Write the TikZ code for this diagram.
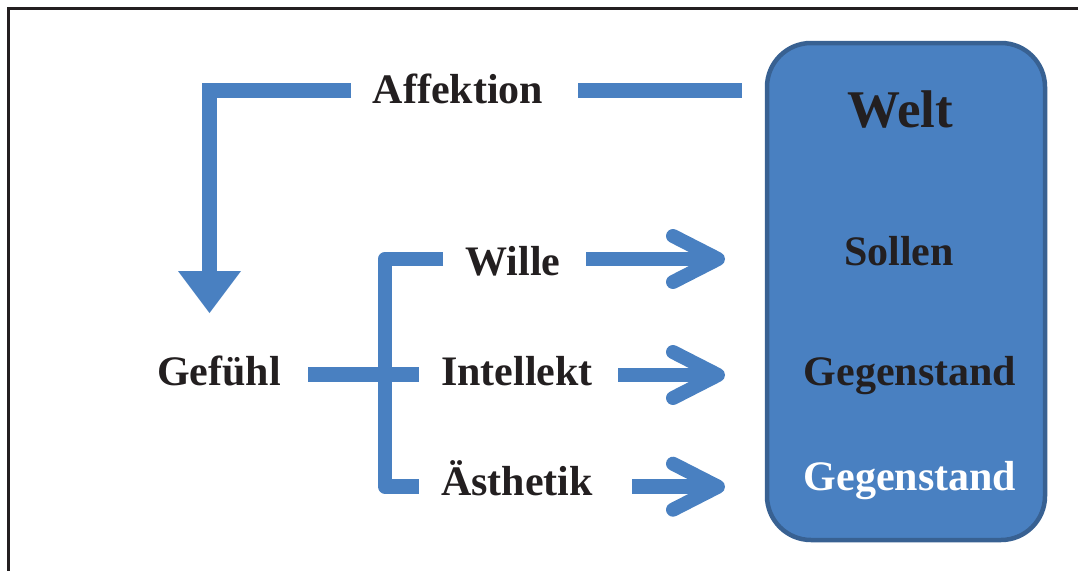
\documentclass[tikz,border=0pt]{standalone}
\usepackage{fontspec}
\setmainfont{Liberation Serif}
\usetikzlibrary{calc}
\definecolor{flowblue}{RGB}{73,128,193}
\definecolor{boxedge}{RGB}{56,97,146}
\definecolor{inkblack}{RGB}{35,31,32}
\tikzset{
  lbl/.style={font=\bfseries\fontsize{42}{50}\selectfont, text=inkblack, anchor=base, inner sep=0pt},
  flow/.style={draw=flowblue, line width=14.5pt},
  chevron/.style={draw=flowblue, line width=14pt, line cap=round, line join=round},
}
\begin{document}
\begin{tikzpicture}[x=1pt,y=-1pt]
\useasboundingbox (0,0) rectangle (1078,570);

% outer frame (runs off the page at right and bottom)
\draw[inkblack, line width=2.8pt] (8.5,600) -- (8.5,8.5) -- (1100,8.5);

% the world box
\node[draw=boxedge, fill=flowblue, line width=4.5pt, rounded corners=44pt,
      minimum width=278pt, minimum height=497pt, inner sep=0pt] (welt) at (906,291.5) {};
\node[lbl, font=\bfseries\fontsize{53}{60}\selectfont] (weltT) at (900,127) {Welt};
\node[lbl] (sollen) at (899,265) {Sollen};
\node[lbl] (gegA) at (910,385) {Gegenstand};
\node[lbl, text=white] (gegB) at (910,490.5) {Gegenstand};

% labels
\node[lbl] (aff) at (458,103) {Affektion};
\node[lbl] (gef) at (219,385) {Gefühl};
\node[lbl] (wil) at (513,275) {Wille};
\node[lbl] (int) at (517,385) {Intellekt};
\node[lbl] (aes) at (517,495) {Ästhetik};

% Affektion: from the world down to Gefühl
\coordinate (affL) at (351,90.5);
\coordinate (affR) at (578,90.5);
\coordinate (affE) at (742,90.5);
\coordinate (corner) at (209.5,90.5);
\coordinate (headbase) at (209.5,271);
\coordinate (headtip) at (209.5,313);
\draw[flow] (affR) -- (affE);
\draw[flow, line join=miter] (affL) -- (corner) -- (headbase);
\fill[flowblue] ($(headbase)+(-31.5,0)$) -- ($(headbase)+(31.5,0)$) -- (headtip) -- cycle;

% Gefühl splits into the three faculties
\coordinate (gefR) at (308,374.7);
\coordinate (brMid) at (419,374.7);
\coordinate (brTop) at (385,259);
\coordinate (brBot) at (385,486.5);
\coordinate (wilL) at (443,259);
\coordinate (aesL) at (419,486.5);
\draw[flow] (gefR) -- (brMid);
\draw[flow, line join=round] (wilL) -- (brTop) -- (brBot) -- (aesL);

% arrows towards the world
\foreach \s/\y in {586/259, 618/375, 632/486.7}{
  \draw[flow] (\s,\y) -- (716,\y);
  \draw[chevron] (673,\y-23) -- (718,\y) -- (673,\y+23);
}
\end{tikzpicture}
\end{document}
